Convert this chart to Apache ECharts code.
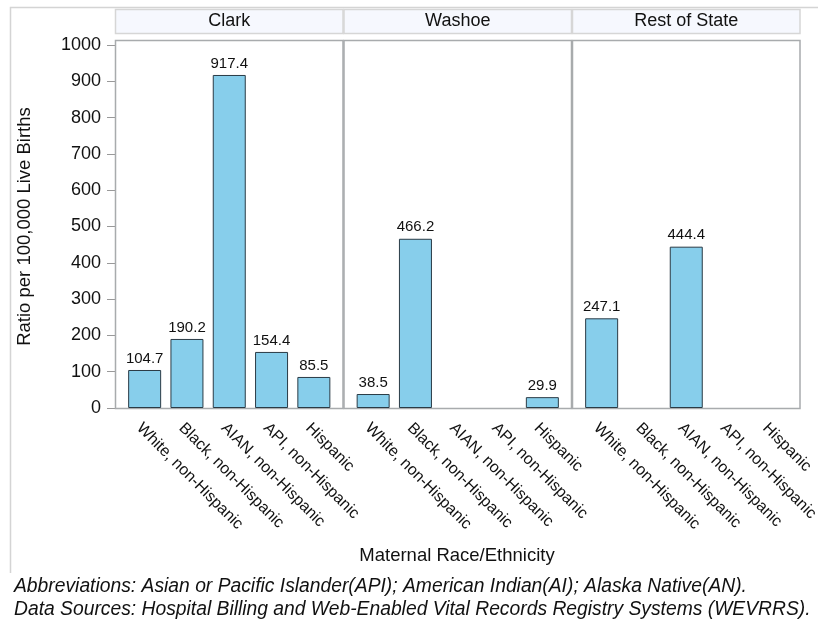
<!DOCTYPE html>
<html>
<head>
<meta charset="utf-8">
<script src="https://cdn.jsdelivr.net/npm/echarts@6/dist/echarts.min.js"></script>
<style>
  html, body { margin: 0; padding: 0; background: #fff; }
  #chart { width: 818px; height: 621px; }
</style>
</head>
<body>
<div id="chart"></div>
<script>
// data
const panels = ['Clark', 'Washoe', 'Rest of State'];
const races = ['White, non-Hispanic', 'Black, non-Hispanic', 'AIAN, non-Hispanic', 'API, non-Hispanic', 'Hispanic'];
const clark = [104.7, 190.2, 917.4, 154.4, 85.5];
const washoe = [38.5, 466.2, null, null, 29.9];
const restOfState = [247.1, null, 444.4, null, null];
const yTicks = [0, 100, 200, 300, 400, 500, 600, 700, 800, 900, 1000];

const panelData = [clark, washoe, restOfState];
const font = 'Liberation Sans, Arial, sans-serif';

// panel geometry
const left0 = 115, panelW = 228.5, frameTop = 40, frameBottom = 408;
const pad = 8.5;

var chart = echarts.init(document.getElementById('chart'));

const grids = [], xAxes = [], yAxes = [], series = [];
const graphics = [];

// outer light frame
graphics.push({ type: 'polyline', shape: { points: [[10.5, 573], [10.5, 7.5], [818, 7.5]] },
  style: { stroke: '#d4d4d4', lineWidth: 1.5, fill: null }, z: 0 });

panels.forEach(function (name, i) {
  const x = left0 + i * panelW;
  grids.push({ left: x + pad, width: panelW - 2 * pad, top: 45, height: frameBottom - 45,
    outerBoundsMode: 'none', containLabel: false });
  xAxes.push({
    type: 'category', gridIndex: i, data: races,
    axisLine: { show: false }, axisTick: { show: false },
    axisLabel: { rotate: -45, interval: 0, margin: 12, verticalAlign: 'top',
      color: '#111', fontSize: 16, fontFamily: font }
  });
  yAxes.push({
    type: 'value', gridIndex: i, min: yTicks[0], max: yTicks[yTicks.length - 1], interval: 100,
    show: i === 0, offset: pad,
    axisLine: { show: false },
    axisTick: { show: true, length: 8, lineStyle: { color: '#999' } },
    axisLabel: { color: '#111', fontSize: 18, fontFamily: font, margin: 14,
      formatter: function (v) { return String(v); } },
    splitLine: { show: false },
    name: i === 0 ? 'Ratio per 100,000 Live Births' : '',
    nameLocation: 'middle', nameGap: 81,
    nameTextStyle: { color: '#111', fontSize: 18.5, fontFamily: font }
  });
  series.push({
    type: 'bar', xAxisIndex: i, yAxisIndex: i, data: panelData[i],
    barWidth: 33,
    itemStyle: { color: '#87ceeb', borderColor: '#2a3b46', borderWidth: 1 },
    label: { show: true, position: 'top', distance: 4, color: '#111', fontSize: 15, fontFamily: font,
      formatter: function (p) { return p.value == null ? '' : p.value.toFixed(1); } }
  });
  // header strip
  graphics.push({ type: 'rect', shape: { x: x + 0.5, y: 9.5, width: panelW - 1, height: 24 },
    style: { fill: '#f6f8fe', stroke: '#d6d6d6', lineWidth: 1.5 }, z: 1 });
  graphics.push({ type: 'text', x: x + panelW / 2, y: 21.5,
    style: { text: name, fill: '#111', font: '18px ' + font, textAlign: 'center', textVerticalAlign: 'middle' }, z: 2 });
  // panel frame
  graphics.push({ type: 'rect', shape: { x: x + 0.5, y: frameTop + 0.5, width: panelW - 1, height: frameBottom - frameTop },
    style: { fill: null, stroke: '#a8abad', lineWidth: 1.5 }, z: 1 });
});

// footnotes and axis title
graphics.push({ type: 'text', x: 457, y: 556,
  style: { text: 'Maternal Race/Ethnicity', fill: '#111', font: '18.5px ' + font, textAlign: 'center', textVerticalAlign: 'middle' } });
graphics.push({ type: 'text', x: 14, y: 587,
  style: { text: 'Abbreviations: Asian or Pacific Islander(API); American Indian(AI); Alaska Native(AN).', fill: '#111',
    font: 'italic 19.3px ' + font, textVerticalAlign: 'middle' } });
graphics.push({ type: 'text', x: 14, y: 610,
  style: { text: 'Data Sources: Hospital Billing and Web-Enabled Vital Records Registry Systems (WEVRRS).', fill: '#111',
    font: 'italic 19.3px ' + font, textVerticalAlign: 'middle' } });

chart.setOption({
  animation: false,
  grid: grids,
  xAxis: xAxes,
  yAxis: yAxes,
  series: series,
  graphic: graphics
});
</script>
</body>
</html>
